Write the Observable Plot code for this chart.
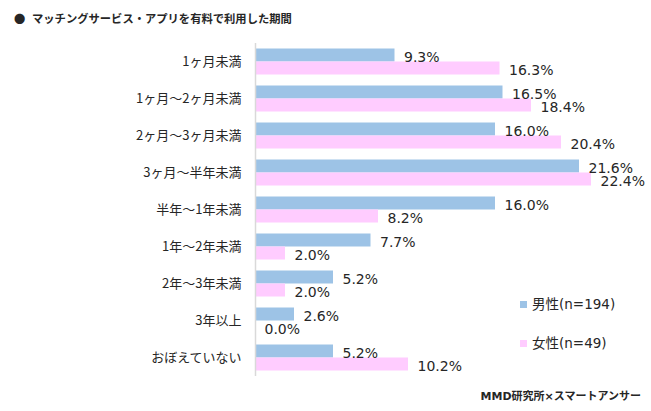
<!DOCTYPE html>
<html>
<head>
<meta charset="utf-8">
<script src="https://cdn.jsdelivr.net/npm/d3@7"></script>
<script src="https://cdn.jsdelivr.net/npm/@observablehq/plot@0.6"></script>
<style>
  html, body { margin: 0; padding: 0; background: #fff; }
  #wrap { position: relative; width: 651px; height: 411px; font-family: "Noto Sans CJK JP", "Noto Sans", sans-serif; color: #262626; }
  #chart { position: absolute; left: 0; top: 0; }
  .title { position: absolute; left: 14px; top: 8px; font-size: 11.3px; font-weight: bold; white-space: nowrap; line-height: 20px; }
  .title .dot { display: inline-block; width: 18px; }
  .caption { position: absolute; right: 10px; top: 387px; font-size: 11px; font-weight: bold; white-space: nowrap; line-height: 20px; font-family: "DejaVu Sans", "Noto Sans CJK JP", sans-serif; }
  .legend { position: absolute; left: 520px; font-size: 13.5px; white-space: nowrap; line-height: 20px; color: #262626; font-family: "DejaVu Sans", "Noto Sans CJK JP", sans-serif; }
  .legend .sw { display: inline-block; width: 7px; height: 7px; margin-right: 5px; vertical-align: 1px; }
</style>
</head>
<body>
<div id="wrap">
  <div id="chart"></div>
  <div class="title"><span class="dot">●</span>マッチングサービス・アプリを有料で利用した期間</div>
  <div class="caption">MMD研究所×スマートアンサー</div>
</div>
<script>
const categories = ["1ヶ月未満", "1ヶ月～2ヶ月未満", "2ヶ月～3ヶ月未満", "3ヶ月～半年未満", "半年～1年未満", "1年～2年未満", "2年～3年未満", "3年以上", "おぼえていない"];
const seriesNames = ["男性(n=194)", "女性(n=49)"];
const seriesColors = ["#9DC3E6", "#FFCCFF"];
const male = [9.3, 16.5, 16.0, 21.6, 16.0, 7.7, 5.2, 2.6, 5.2];
const female = [16.3, 18.4, 20.4, 22.4, 8.2, 2.0, 2.0, 0.0, 10.2];

const data = [];
categories.forEach((c, i) => {
  data.push({cat: c, series: seriesNames[0], value: male[i]});
  data.push({cat: c, series: seriesNames[1], value: female[i]});
});

const plot = Plot.plot({
  width: 651,
  height: 411,
  marginLeft: 255,
  marginRight: 6,
  marginTop: 39.5,
  marginBottom: 32,
  style: {fontFamily: '"Noto Sans CJK JP", sans-serif', fontSize: "13px", color: "#262626", background: "transparent"},
  x: {domain: [0, 26], axis: null},
  y: {domain: seriesNames, axis: null, paddingInner: 0, paddingOuter: 0.407},
  fy: {domain: categories, padding: 0, axis: "left", tickSize: 0, tickPadding: 14, label: null},
  color: {domain: seriesNames, range: seriesColors},
  marks: [
    Plot.barX(data, {fy: "cat", y: "series", x: "value", fill: "series"}),
    Plot.ruleX([0], {stroke: "#d9d9d9", strokeWidth: 1.5}),
    Plot.text(data, {fy: "cat", y: "series", x: "value", text: d => d.value.toFixed(1) + "%", textAnchor: "start", dx: 9, dy: 2, fill: "#262626", fontSize: 14, fontFamily: '"DejaVu Sans", sans-serif'})
  ]
});
document.getElementById("chart").appendChild(plot);

const wrap = document.getElementById("wrap");
const legendTops = [294, 333];
seriesNames.forEach((s, i) => {
  const el = document.createElement("div");
  el.className = "legend";
  el.style.top = legendTops[i] + "px";
  el.innerHTML = `<span class="sw" style="background:${seriesColors[i]}"></span>${s}`;
  wrap.appendChild(el);
});
</script>
</body>
</html>
